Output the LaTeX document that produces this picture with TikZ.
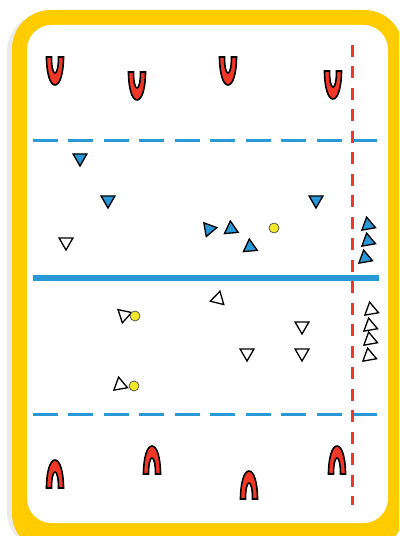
\documentclass[tikz,border=0pt]{standalone}
\usetikzlibrary{shapes.geometric}
\definecolor{pitchblue}{RGB}{41,152,214}
\definecolor{conered}{RGB}{240,55,40}
\definecolor{frameyellow}{RGB}{255,204,0}
\definecolor{ballyellow}{RGB}{240,232,40}
\begin{document}
\begin{tikzpicture}[x=0.02cm,y=-0.02cm,
  tri/.style={regular polygon,regular polygon sides=3,draw=black,line width=0.75pt,minimum size=0.32cm,inner sep=0pt},
  bluetri/.style={tri,fill=pitchblue},
  whitetri/.style={tri,fill=white},
  ball/.style={circle,draw=black!70,fill=ballyellow,minimum size=0.2cm,inner sep=0pt,line width=0.4pt},
  zoneline/.style={pitchblue,line width=0.06cm,dash pattern=on 0.5cm off 0.21cm},
  goal/.pic={\filldraw[fill=conered,draw=black,line width=0.9pt] (-8.5,-14) .. controls (-8.5,2) and (-5,14) .. (0,14) .. controls (5,14) and (8.5,2) .. (8.5,-14) -- (3.5,-14) .. controls (3.5,-4) and (2,2) .. (0,2) .. controls (-2,2) and (-3.5,-4) .. (-3.5,-14) -- cycle;}]
\useasboundingbox (0,0) rectangle (399,536);
\clip (0,0) rectangle (399,536);
% frame
\fill[black!8,rounded corners=22] (7,13) rectangle (400,550);
\fill[frameyellow,rounded corners=22] (12,10) rectangle (403,552);
\fill[white,rounded corners=14] (27,25) rectangle (388,523);
% lines
\draw[zoneline] (33,141) -- (378,141);
\draw[pitchblue,line width=0.14cm] (33,278) -- (379,278);
\draw[zoneline] (33,414) -- (378,414);
\draw[conered,line width=0.06cm,dash pattern=on 0.24cm off 0.19cm] (352,45) -- (352,505);
% goals
\pic at (55,71) {goal};
\pic at (137,86) {goal};
\pic at (228,71) {goal};
\pic at (333,85) {goal};
\pic[rotate=180] at (55,474) {goal};
\pic[rotate=180] at (152,460) {goal};
\pic[rotate=180] at (249,485) {goal};
\pic[rotate=180] at (337,460) {goal};
% blue team
\node[bluetri,rotate=180] (b1) at (80,158) {};
\node[bluetri,rotate=180] (b2) at (108,200) {};
\node[bluetri,rotate=180] (b3) at (316,200) {};
\node[bluetri,rotate=-80] (b4) at (209,229) {};
\node[bluetri,rotate=5] (b5) at (231,229) {};
\node[bluetri,rotate=5] (b6) at (250,247) {};
\node[bluetri,rotate=10] (b7) at (368,225) {};
\node[bluetri,rotate=10] (b8) at (368,241) {};
\node[bluetri,rotate=10] (b9) at (365,258) {};
% white team
\node[whitetri,rotate=180] (w1) at (66,242) {};
\node[whitetri,rotate=-14] (w2) at (218,299) {};
\node[whitetri,rotate=180] (w3) at (302,326) {};
\node[whitetri,rotate=180] (w4) at (247,353) {};
\node[whitetri,rotate=180] (w5) at (302,353) {};
\node[whitetri,rotate=48] (w6) at (124,315) {};
\node[whitetri,rotate=10] (w7) at (120,385) {};
\node[whitetri,rotate=10] (w8) at (371,310) {};
\node[whitetri,rotate=10] (w9) at (370,326) {};
\node[whitetri,rotate=10] (w10) at (370,340) {};
\node[whitetri,rotate=10] (w11) at (369,356) {};
% balls
\node[ball] (ball1) at (274,228) {};
\node[ball] (ball2) at (135,316) {};
\node[ball] (ball3) at (134,386) {};
\end{tikzpicture}
\end{document}
